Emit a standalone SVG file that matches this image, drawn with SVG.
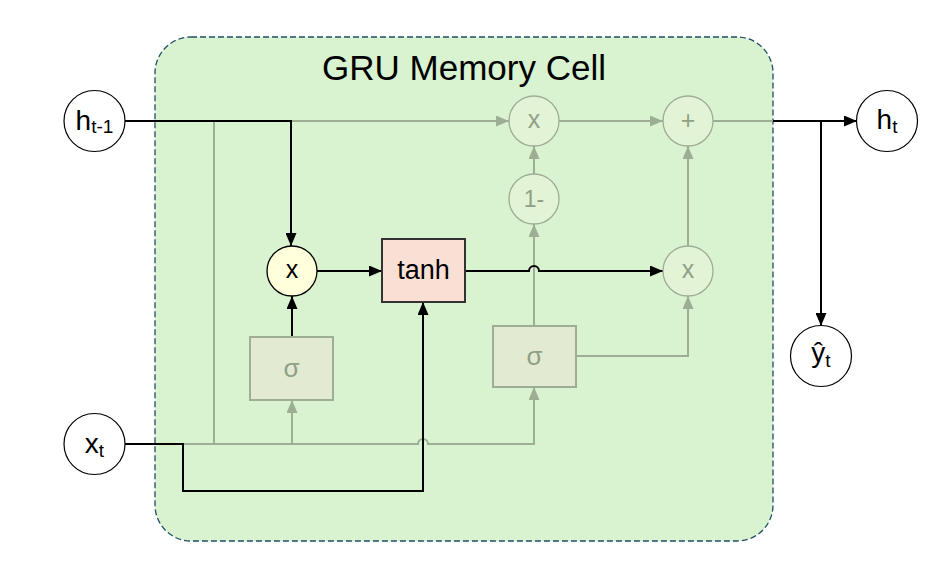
<svg xmlns="http://www.w3.org/2000/svg" width="952" height="567" viewBox="0 0 952 567">
<style>
.cont{fill:#D9F2D0;stroke:#1F4E66;stroke-width:1.3;stroke-dasharray:6 3}
.io{fill:#FFFFFF;stroke:#000;stroke-width:1.2}
.gc{fill:#E3F3D6;stroke:#9DAE95;stroke-width:1.3}
.gb{fill:#E2EBD2;stroke:#9DAE95;stroke-width:2}
.blk{fill:none;stroke:#000;stroke-width:2}
.gry{fill:none;stroke:#9DAE95;stroke-width:2}
.t{font-family:"Liberation Sans",Arial,sans-serif;fill:#000;text-anchor:middle}
.tg{font-family:"Liberation Sans",Arial,sans-serif;fill:#8FA087;text-anchor:middle}
</style>
<defs>
<marker id="ab" markerUnits="userSpaceOnUse" markerWidth="13" markerHeight="11" refX="13" refY="5.5" orient="auto"><path d="M0,0 L13,5.5 L0,11 z" fill="#000"/></marker>
<marker id="ag" markerUnits="userSpaceOnUse" markerWidth="13" markerHeight="11" refX="13" refY="5.5" orient="auto"><path d="M0,0 L13,5.5 L0,11 z" fill="#9DAE95"/></marker>
</defs>
<rect width="952" height="567" fill="#FFFFFF"/>
<g id="container">
<rect class="cont" x="155" y="37" width="618" height="504" rx="36" ry="36"/>
<text class="t" x="464" y="80" font-size="35">GRU Memory Cell</text>
</g>
<g id="connectors">
<path class="gry" d="M214,121 V444"/>
<path class="gry" d="M291,121 H509" marker-end="url(#ag)"/>
<path class="blk" d="M125,121 H291 V246" stroke-width="2.3" marker-end="url(#ab)"/>
<path class="blk" d="M317,271 H382" marker-end="url(#ab)"/>
<path class="blk" d="M292,337 V296" marker-end="url(#ab)"/>
<path class="gry" d="M183,444 H418 a5,5 0 0 1 10,0 H534 V387" marker-end="url(#ag)"/>
<path class="gry" d="M292,444 V400" marker-end="url(#ag)"/>
<path class="blk" d="M125,444 H183 V491 H423 V302" stroke-width="2.3" marker-end="url(#ab)"/>
<path class="gry" d="M534,326 V224" marker-end="url(#ag)"/>
<path class="gry" d="M534,174 V146" marker-end="url(#ag)"/>
<path class="gry" d="M559,121 H663" marker-end="url(#ag)"/>
<path class="blk" d="M465,271 H529 a5,5 0 0 1 10,0 H663" marker-end="url(#ab)"/>
<path class="gry" d="M576,356 H688 V296" marker-end="url(#ag)"/>
<path class="gry" d="M688,246 V146" marker-end="url(#ag)"/>
<path class="gry" d="M713,121 H773"/>
<path class="blk" d="M773,121 H857" stroke-width="2.3" marker-end="url(#ab)"/>
<path class="blk" d="M821,121 V326" marker-end="url(#ab)"/>
</g>
<g id="h_prev">
<circle class="io" cx="94.5" cy="121" r="30.5"/>
<text class="t" x="94.5" y="130" font-size="28">h<tspan font-size="19" dy="3">t-1</tspan></text>
</g>
<g id="x_t">
<circle class="io" cx="94.5" cy="444" r="30.5"/>
<text class="t" x="94.5" y="453" font-size="28">x<tspan font-size="19" dy="4">t</tspan></text>
</g>
<g id="h_t">
<circle class="io" cx="887" cy="121" r="30.5"/>
<text class="t" x="887" y="129" font-size="28">h<tspan font-size="19" dy="4">t</tspan></text>
</g>
<g id="y_hat">
<circle class="io" cx="821" cy="356" r="30.5"/>
<text class="t" x="821" y="362" font-size="28">ŷ<tspan font-size="19" dy="5">t</tspan></text>
</g>
<g id="reset_mul">
<circle cx="292" cy="271" r="25" fill="#FFFFDC" stroke="#000" stroke-width="1.3"/>
<text class="t" x="292" y="278" font-size="25">x</text>
</g>
<g id="tanh">
<rect x="382" y="239" width="83" height="63" fill="#FADFD5" stroke="#333" stroke-width="2"/>
<text class="t" x="423.5" y="279" font-size="27">tanh</text>
</g>
<g id="sigma_r">
<rect class="gb" x="250" y="337" width="83" height="63"/>
<text class="tg" x="291.5" y="377" font-size="26">σ</text>
</g>
<g id="sigma_z">
<rect class="gb" x="493" y="326" width="83" height="61"/>
<text class="tg" x="534.5" y="365" font-size="26">σ</text>
</g>
<g id="one_minus">
<circle class="gc" cx="534" cy="199" r="25"/>
<text class="tg" x="534" y="207" font-size="23">1-</text>
</g>
<g id="mul_top">
<circle class="gc" cx="534" cy="121" r="25"/>
<text class="tg" x="534" y="128" font-size="25">x</text>
</g>
<g id="plus">
<circle class="gc" cx="688" cy="121" r="25"/>
<text class="tg" x="688" y="129" font-size="25">+</text>
</g>
<g id="mul_bottom">
<circle class="gc" cx="688" cy="271" r="25"/>
<text class="tg" x="688" y="278" font-size="25">x</text>
</g>
</svg>
